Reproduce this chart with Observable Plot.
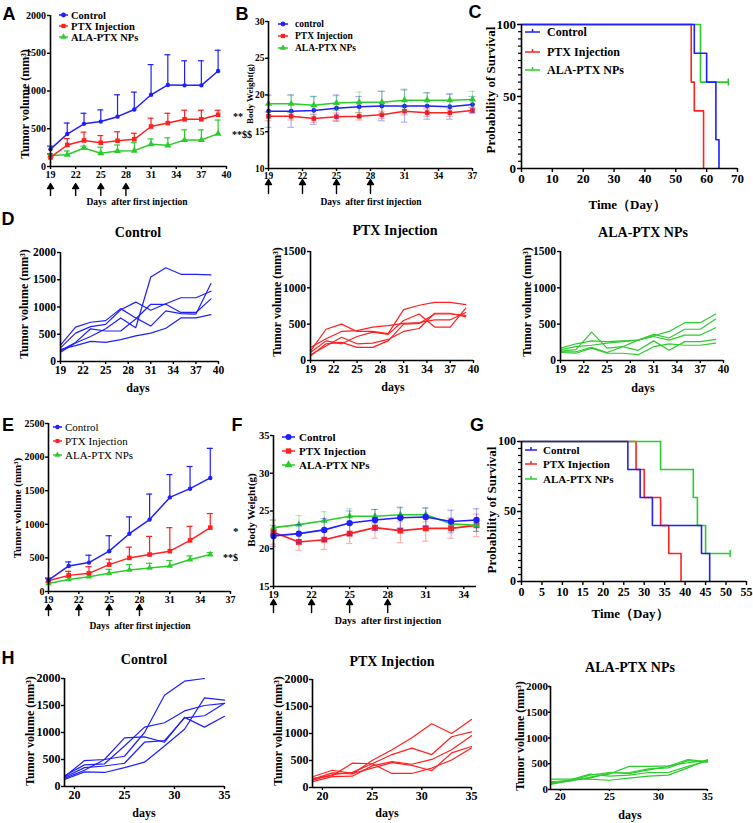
<!DOCTYPE html>
<html><head><meta charset="utf-8">
<script src="https://cdn.jsdelivr.net/npm/d3@7"></script>
<script src="https://cdn.jsdelivr.net/npm/@observablehq/plot@0.6"></script>
<style>
body{margin:0;background:#fff;}
#root{position:relative;width:753px;height:823px;overflow:hidden;background:#fff;}
#root svg{position:absolute;}
</style></head><body><div id="root"></div>
<script>
// ---------- colours / groups ----------
const groups = ["Control", "PTX Injection", "ALA-PTX NPs"];
const colors = ["#1f1fff", "#ff2020", "#2ccc2c"];
const symbols = ["circle", "square", "triangle"];
const injectionDays = [19, 22, 25, 28];

// ---------- A: tumour volume (mean, upper SD) ----------
const daysA = [19,21,23,25,27,29,31,33,35,37,39];
const ctrlA = [230,430,565,595,660,755,950,1080,1075,1075,1265];
const ctrlAsd = [40,145,140,155,290,230,400,400,325,325,275];
const ptxA = [120,285,345,315,340,360,530,575,625,625,685];
const ptxAsd = [50,85,110,95,120,80,110,130,120,120,60];
const alaA = [145,155,245,175,205,210,295,280,350,350,435];
const alaAsd = [15,50,25,80,80,105,70,100,135,135,180];

// ---------- B: body weight ----------
const daysB = [19,21,23,25,27,29,31,33,35,37];
const ctrlB = [17.8,17.8,17.9,18.2,18.4,18.5,18.5,18.5,18.4,18.7];
const ctrlBsd = [2.2,2.2,1.9,1.8,1.4,2.0,2.2,1.8,1.7,1.1];
const ptxB = [17.1,17.1,16.8,17.05,17.1,17.3,17.8,17.6,17.6,17.9];
const ptxBsd = [0.6,0.5,0.5,0.5,0.5,0.5,0.5,0.5,0.5,0.4];
const alaB = [18.8,18.8,18.6,18.9,19.0,19.0,19.3,19.3,19.3,19.4];
const alaBsd = [1.1,1.2,1.2,1.0,1.4,1.5,1.5,1.0,0.9,1.1];

// ---------- C: survival ----------
const survCtrlC_t = [0,56,60,63,64], survCtrlC_p = [100,80,60,20,0];
const survPtxC_t = [0,55,56,59], survPtxC_p = [100,60,40,0];
const survAlaC_t = [0,58,67], survAlaC_p = [100,60,60];

// ---------- D: individual tumour curves ----------
const daysD = [19,21,23,25,27,29,31,33,35,37,39];
const ctrlD = [
  [170,340,460,600,800,620,1550,1720,1600,1600,1590],
  [300,630,720,750,970,800,650,930,880,870,1430],
  [250,520,640,680,950,1090,940,1060,1170,1170,1290],
  [200,350,600,560,560,780,1050,1050,900,900,1150],
  [220,290,370,350,400,470,520,610,800,800,860]
];
const ptxD = [
  [130,430,500,400,400,370,700,760,800,800,770],
  [180,300,400,410,460,480,510,520,560,560,660],
  [110,270,230,330,390,360,550,640,460,460,720],
  [80,200,320,230,240,290,400,440,650,650,600],
  [60,230,250,180,180,270,500,510,640,640,620]
];
const alaD = [
  [170,230,270,260,270,280,340,400,520,520,640],
  [150,190,210,240,260,280,360,310,430,430,570],
  [130,150,390,170,190,280,330,280,350,350,450],
  [120,120,180,110,190,140,270,140,260,260,290],
  [110,100,170,100,100,80,190,230,210,210,240]
];

// ---------- E: tumour volume, second model ----------
const daysE = [19,21,23,25,27,29,31,33,35];
const ctrlE = [170,380,430,600,860,1070,1400,1530,1690];
const ctrlEsd = [30,60,110,230,250,380,340,330,440];
const ptxE = [160,240,270,400,500,550,600,760,950];
const ptxEsd = [30,60,100,80,160,270,350,210,210];
const alaE = [120,180,220,270,320,350,380,475,550];
const alaEsd = [20,30,40,60,80,70,80,55,30];

// ---------- F: body weight, second model ----------
const daysF = [19,21,23,25,27,29,31,33,35];
const ctrlF = [21.7,22.0,22.5,23.4,23.8,24.1,24.2,23.6,23.8];
const ctrlFsd = [1.4,1.2,1.5,1.6,1.4,1.4,1.2,1.5,1.5];
const ptxF = [22.2,20.9,21.2,22.0,22.8,22.4,22.7,22.7,23.1];
const ptxFsd = [1.6,1.1,1.3,1.3,1.4,1.6,1.7,1.3,1.5];
const alaF = [22.8,23.2,23.7,24.3,24.3,24.5,24.5,23.3,23.1];
const alaFsd = [1.0,1.2,1.2,1.0,0.9,0.9,0.9,0.8,0.8];

// ---------- G: survival, second model ----------
const survCtrlG_t = [0,26,29,32,44,46], survCtrlG_p = [100,80,60,40,20,0];
const survPtxG_t = [0,28,30,34,36,39], survPtxG_p = [100,80,60,40,20,0];
const survAlaG_t = [0,34,42,43,45,51], survAlaG_p = [100,80,60,40,20,20];

// ---------- H: individual curves, second model ----------
const daysH = [19,21,23,25,27,29,31,33,35];
const ctrlH = [
  [150,300,500,560,1000,1690,1950,2000,null],
  [180,480,500,900,920,820,1280,1100,1300],
  [200,400,420,750,1100,1180,1400,1500,1540],
  [170,350,380,430,820,850,1270,1310,1540],
  [130,270,260,350,450,750,1060,1640,1600]
];
const ptxH = [
  [150,270,250,500,700,920,1180,1000,1260],
  [130,240,280,440,610,730,610,940,1030],
  [110,200,210,400,480,430,520,700,960],
  [200,320,260,360,460,410,310,640,760],
  [170,220,450,440,260,260,360,510,730]
];
const alaH = [
  [100,170,280,330,310,380,450,580,540],
  [200,200,200,180,220,260,280,420,580],
  [130,160,240,300,450,450,460,520,560],
  [110,190,300,260,280,330,330,450,550],
  [150,180,220,320,330,400,420,560,530]
];

// ---------- helpers ----------
const SERIF = "'Liberation Serif','Times New Roman',Times,serif";
const SANS = "'Liberation Sans',Arial,Helvetica,sans-serif";
const root = document.getElementById("root");

function panel({box, xdom, ydom, xticks, yticks, fs, marks, tick = 3, pad = 1.5, minorY = null, mL = 50, mR = 14, mT = 10, mB = 44}) {
  const [x0, y0, x1, y1] = box;
  const axes = [
    Plot.axisX({ticks: xticks, tickSize: tick, tickPadding: pad, tickFormat: d => String(d), strokeWidth: 1.4, label: null}),
    Plot.axisY({ticks: yticks, tickSize: tick, tickPadding: pad, tickFormat: d => String(d), strokeWidth: 1.4, label: null})
  ];
  if (minorY) axes.push(Plot.axisY({ticks: minorY, tickSize: 3, tickFormat: () => "", strokeWidth: 1.2, label: null}));
  const p = Plot.plot({
    width: x1 - x0 + mL + mR, height: y1 - y0 + mT + mB,
    marginLeft: mL, marginRight: mR, marginTop: mT, marginBottom: mB,
    x: {domain: xdom}, y: {domain: ydom},
    style: {fontFamily: SERIF, fontWeight: "bold", fontSize: fs + "px", background: "transparent", color: "black", overflow: "visible"},
    marks: [...axes, ...marks,
      Plot.ruleX([xdom[0]], {strokeWidth: 1.6}),
      Plot.ruleY([ydom[0]], {strokeWidth: 1.6})]
  });
  p.style.position = "absolute";
  p.style.left = (x0 - mL) + "px";
  p.style.top = (y0 - mT) + "px";
  root.appendChild(p);
}

function series(days, vals, sd, gi, r, {two = false, op = 1, cap = 0.3, lw = 1.5, ew = 1.2} = {}) {
  const color = colors[gi];
  const rows = days.map((x, i) => ({x, y: vals[i], e: sd[i]}));
  const ms = [];
  ms.push(Plot.ruleX(rows, {x: "x", y1: two ? d => d.y - d.e : "y", y2: d => d.y + d.e, stroke: color, strokeWidth: ew, strokeOpacity: op}));
  ms.push(Plot.ruleY(rows, {y: d => d.y + d.e, x1: d => d.x - cap, x2: d => d.x + cap, stroke: color, strokeWidth: ew, strokeOpacity: op}));
  if (two) ms.push(Plot.ruleY(rows, {y: d => d.y - d.e, x1: d => d.x - cap, x2: d => d.x + cap, stroke: color, strokeWidth: ew, strokeOpacity: op}));
  ms.push(Plot.line(rows, {x: "x", y: "y", stroke: color, strokeWidth: lw}));
  ms.push(Plot.dot(rows, {x: "x", y: "y", symbol: symbols[gi], r, fill: color, stroke: "none"}));
  return ms;
}

const arrowShape = {draw(c, l) { const hl = 5, hw = 3; c.moveTo(0, 0); c.lineTo(0, -l + hl); c.moveTo(-hw, -l + hl); c.lineTo(0, -l); c.lineTo(hw, -l + hl); c.closePath(); }};
const tickShape = {draw(c, l) { c.moveTo(0, 0); c.lineTo(0, -l); }};
function arrows(dy, length) {
  return Plot.vector(injectionDays, {x: d => d, frameAnchor: "bottom", dy, length, anchor: "start", shape: arrowShape, stroke: "black", fill: "black", strokeWidth: 1.4});
}

function surv(t, p, gi, censor) {
  const rows = t.map((x, i) => ({t: x, p: p[i]}));
  const ms = [Plot.line(rows, {x: "t", y: "p", curve: "step-after", stroke: colors[gi], strokeWidth: 1.6})];
  if (censor) ms.push(Plot.vector([rows[rows.length - 1]], {x: "t", y: "p", length: 6, anchor: "middle", shape: tickShape, stroke: colors[gi], strokeWidth: 1.5}));
  return ms;
}

function spaghetti(days, lines, gi) {
  const rows = lines.flatMap((vals, id) => days.map((x, i) => ({x, y: vals[i], id})));
  return [Plot.line(rows, {x: "x", y: "y", z: "id", stroke: colors[gi], strokeWidth: 1.2})];
}

// ---------- panels ----------
const t3 = (a, b) => d3.range(a, b + 0.01, 3);

// A
panel({box: [50, 15, 226, 166], xdom: [19, 40], ydom: [0, 2000], xticks: t3(19, 40), yticks: [0, 500, 1000, 1500, 2000], fs: 10,
  marks: [
    ...series(daysA, alaA, alaAsd, 2, 2.6, {cap: 0.35}),
    ...series(daysA, ptxA, ptxAsd, 1, 2.6, {cap: 0.35}),
    ...series(daysA, ctrlA, ctrlAsd, 0, 2.2, {cap: 0.35}),
    arrows(29, 12)
  ]});

// B
panel({box: [268, 21, 472, 168], xdom: [19, 37], ydom: [10, 30], xticks: t3(19, 37), yticks: [10, 15, 20, 25, 30], fs: 9.5, pad: 1,
  marks: [
    ...series(daysB, ptxB, ptxBsd, 1, 2.6, {two: true, op: 0.35, cap: 0.3}),
    ...series(daysB, ctrlB, ctrlBsd, 0, 2.4, {two: true, op: 0.35, cap: 0.3}),
    ...series(daysB, alaB, alaBsd, 2, 2.6, {two: true, op: 0.35, cap: 0.3}),
    arrows(25, 14)
  ]});

// C
panel({box: [521, 24, 737, 168], xdom: [0, 70], ydom: [0, 100], xticks: d3.range(0, 71, 10), yticks: [0, 50, 100], minorY: d3.range(0, 101, 5), fs: 13, tick: 4,
  marks: [
    ...surv(survPtxC_t, survPtxC_p, 1),
    ...surv(survAlaC_t, survAlaC_p, 2, true),
    ...surv(survCtrlC_t, survCtrlC_p, 0)
  ]});

// D
panel({box: [60, 252, 218, 361], xdom: [19, 40], ydom: [0, 2000], xticks: t3(19, 40), yticks: [0, 500, 1000, 1500, 2000], fs: 11.5, marks: spaghetti(daysD, ctrlD, 0)});
panel({box: [310, 251, 473, 360], xdom: [19, 40], ydom: [0, 1500], xticks: t3(19, 40), yticks: [0, 500, 1000, 1500], fs: 11.5, marks: spaghetti(daysD, ptxD, 1)});
panel({box: [560, 251, 723, 360], xdom: [19, 40], ydom: [0, 1500], xticks: t3(19, 40), yticks: [0, 500, 1000, 1500], fs: 11.5, marks: spaghetti(daysD, alaD, 2)});

// E
panel({box: [48, 423, 230, 591], xdom: [19, 37], ydom: [0, 2500], xticks: t3(19, 37), yticks: [0, 500, 1000, 1500, 2000, 2500], fs: 10, pad: 1,
  marks: [
    ...series(daysE, alaE, alaEsd, 2, 2.4, {cap: 0.3}),
    ...series(daysE, ptxE, ptxEsd, 1, 2.6, {cap: 0.3}),
    ...series(daysE, ctrlE, ctrlEsd, 0, 2.2, {cap: 0.3}),
    arrows(24, 11)
  ]});

// F
panel({box: [273, 435, 476, 586], xdom: [19, 35], ydom: [15, 35], xticks: t3(19, 34), yticks: [15, 20, 25, 30, 35], fs: 10.5, pad: 1,
  marks: [
    ...series(daysF, ptxF, ptxFsd, 1, 3.3, {two: true, op: 0.35, cap: 0.25, lw: 1.6}),
    ...series(daysF, alaF, alaFsd, 2, 2.6, {two: true, op: 0.35, cap: 0.25, lw: 1.6}),
    ...series(daysF, ctrlF, ctrlFsd, 0, 3.2, {two: true, op: 0.35, cap: 0.25, lw: 1.6}),
    arrows(26, 13)
  ]});

// G
panel({box: [521, 441, 746, 581], xdom: [0, 55], ydom: [0, 100], xticks: d3.range(0, 56, 5), yticks: [0, 50, 100], minorY: d3.range(0, 101, 5), fs: 12, tick: 4,
  marks: [
    ...surv(survPtxG_t, survPtxG_p, 1),
    ...surv(survAlaG_t, survAlaG_p, 2, true),
    ...surv(survCtrlG_t, survCtrlG_p, 0)
  ]});

// H
panel({box: [64, 678, 224, 786], xdom: [19, 35], ydom: [0, 2000], xticks: [20, 25, 30, 35], yticks: [0, 500, 1000, 1500, 2000], fs: 12, pad: 1, marks: spaghetti(daysH, ctrlH, 0)});
panel({box: [312, 679, 471, 787], xdom: [19, 35], ydom: [0, 2000], xticks: [20, 25, 30, 35], yticks: [0, 500, 1000, 1500, 2000], fs: 12, pad: 1, marks: spaghetti(daysH, ptxH, 1)});
panel({box: [550, 686, 707, 789], xdom: [19, 35], ydom: [0, 2000], xticks: [20, 25, 30, 35], yticks: [0, 500, 1000, 1500, 2000], fs: 11, tick: 2, pad: 0.5, marks: spaghetti(daysH, alaH, 2)});

// ---------- overlay text & legends ----------
const ov = d3.select(root).append("svg").attr("width", 753).attr("height", 823).style("left", "0px").style("top", "0px").style("pointer-events", "none");
function T(s, x, y, {size = 12, weight = "bold", family = SERIF, anchor = "middle", rotate = 0} = {}) {
  const t = ov.append("text").attr("x", x).attr("y", y).attr("text-anchor", anchor).attr("dominant-baseline", "central")
    .attr("font-size", size).attr("font-weight", weight).attr("font-family", family).attr("fill", "black").text(s);
  if (rotate) t.attr("transform", `rotate(${rotate},${x},${y})`);
}
const d3sym = {circle: d3.symbolCircle, square: d3.symbolSquare, triangle: d3.symbolTriangle};
function LEG(labels, {x0, x1, tx, ys, size, weight = "bold", r = 2.4, tick = false}) {
  labels.forEach((lab, i) => {
    const y = ys[i], c = colors[i], cx = (x0 + x1) / 2;
    ov.append("line").attr("x1", x0).attr("x2", x1).attr("y1", y).attr("y2", y).attr("stroke", c).attr("stroke-width", 1.5);
    if (tick) ov.append("line").attr("x1", cx).attr("x2", cx).attr("y1", y - 3).attr("y2", y).attr("stroke", c).attr("stroke-width", 1.5);
    else ov.append("path").attr("d", d3.symbol(d3sym[symbols[i]], Math.PI * r * r)()).attr("transform", `translate(${cx},${y})`).attr("fill", c);
    T(lab, tx, y, {size, weight, anchor: "start"});
  });
}

// panel letters
[["A", 9, 14], ["B", 242, 14], ["C", 475, 12], ["D", 8, 219], ["E", 8, 425], ["F", 237, 425], ["G", 477, 425], ["H", 8, 658]]
  .forEach(([s, x, y]) => T(s, x, y, {size: 18, family: SANS}));

// y labels
const TV = "Tumor volume (mm³)";
T(TV, 25, 104, {size: 12, rotate: -90});
T("Body Weight(g)", 250, 94, {size: 9, rotate: -90});
T("Probability of Survival", 490, 90, {size: 13, rotate: -90});
T(TV, 24, 304, {size: 12, rotate: -90});
T(TV, 277, 302, {size: 12, rotate: -90});
T(TV, 527, 302, {size: 12, rotate: -90});
T(TV, 17, 508, {size: 11, rotate: -90});
T("Body Weight(g)", 251, 510, {size: 11, rotate: -90});
T("Probability of Survival", 491, 510, {size: 13, rotate: -90});
T(TV, 30, 731, {size: 12, rotate: -90});
T(TV, 278, 731, {size: 12, rotate: -90});
T(TV, 520, 736, {size: 12, rotate: -90});

// x labels
const DAF = "Days\u00a0 after first injection";
T(DAF, 137, 202, {size: 9.5});
T(DAF, 371, 202, {size: 9.5});
T("Time（Day）", 627, 204, {size: 13});
T("days", 138, 388, {size: 12});
T("days", 393, 387, {size: 12});
T("days", 643, 388, {size: 12});
T(DAF, 140, 626, {size: 9.5});
T(DAF, 388, 620, {size: 10});
T("Time（Day）", 630, 613, {size: 13});
T("days", 144, 813, {size: 12});
T("days", 387, 813, {size: 12});
T("days", 630, 815, {size: 12});

// titles
T("Control", 138, 232, {size: 14});
T("PTX Injection", 395, 230, {size: 14});
T("ALA-PTX NPs", 643, 232, {size: 14});
T("Control", 144, 659, {size: 14});
T("PTX Injection", 392, 661, {size: 14});
T("ALA-PTX NPs", 630, 667, {size: 14});

// significance marks
T("**", 233, 116, {size: 10, anchor: "start"});
T("**$$", 232, 134, {size: 10, anchor: "start"});
T("*", 233, 531, {size: 11, anchor: "start"});
T("**$", 223, 557, {size: 10, anchor: "start"});

// legends
LEG(groups, {x0: 59, x1: 68, tx: 71, ys: [15, 26, 37], size: 10.5});
LEG(["control", "PTX Injection", "ALA-PTX NPs"], {x0: 278, x1: 288, tx: 295, ys: [24, 36, 48], size: 9.5});
LEG(groups, {x0: 525, x1: 540, tx: 547, ys: [32, 52, 70], size: 12, tick: true});
LEG(groups, {x0: 53, x1: 62, tx: 65, ys: [427, 441, 455], size: 11, weight: "normal", r: 2.2});
LEG(groups, {x0: 282, x1: 295, tx: 299, ys: [437, 451, 465], size: 11, r: 3});
LEG(groups, {x0: 525, x1: 537, tx: 543, ys: [450, 464, 479], size: 11, tick: true});
</script></body></html>
